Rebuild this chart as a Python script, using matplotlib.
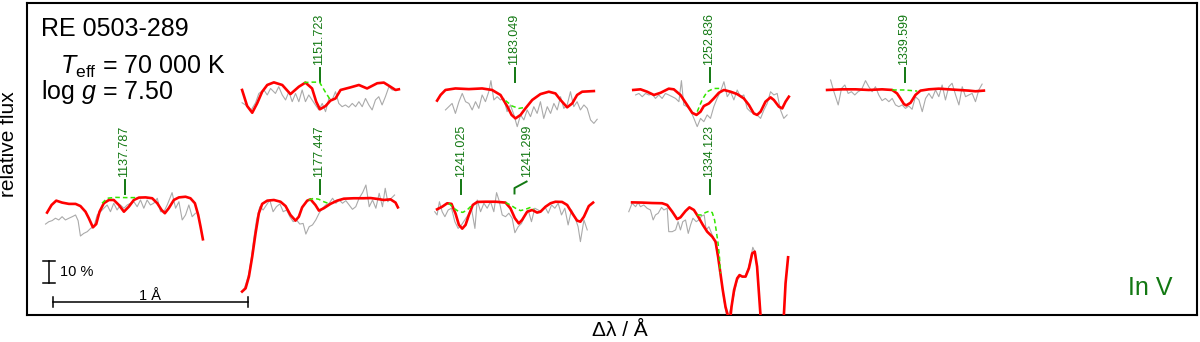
import numpy as np
import matplotlib
matplotlib.use('Agg')
import matplotlib.pyplot as plt

plt.rcParams['font.family'] = ['Liberation Sans', 'DejaVu Sans']
plt.rcParams['mathtext.fontset'] = 'custom'
plt.rcParams['mathtext.rm'] = 'Liberation Sans'
plt.rcParams['mathtext.it'] = 'Liberation Sans:italic'

# panel order: 1137, 1151, 1177, 1183, 1241, 1252, 1334, 1339
panel_center = [1137.787, 1151.723, 1177.447, 1183.049, 1241.299, 1252.836, 1334.123, 1339.599]
panel_lines = [[1137.787], [1151.723], [1177.447], [1183.049], [1241.025, 1241.299],
               [1252.836], [1334.123], [1339.599]]

# offsets from line centre (A) and normalised flux: obs = observation, mod = model,
# noin = model without In V
obs_dx_1137 = [-0.405, -0.388, -0.371, -0.354, -0.337, -0.320, -0.303, -0.285, -0.268, -0.251,
               -0.238, -0.226, -0.209, -0.191, -0.174, -0.157, -0.140, -0.123, -0.106, -0.089,
               -0.072, -0.055, -0.038, -0.021, -0.003, 0.014, 0.031, 0.048, 0.065, 0.082,
               0.099, 0.116, 0.133, 0.150, 0.168, 0.185, 0.202, 0.219, 0.236, 0.244,
               0.262, 0.279, 0.296, 0.313, 0.330, 0.347, 0.364]
obs_f_1137 = [0.889, 0.900, 0.905, 0.916, 0.908, 0.923, 0.908, 0.916, 0.923, 0.931,
              0.905, 0.834, 0.846, 0.854, 0.869, 0.877, 0.931, 0.946, 0.962, 0.977,
              0.946, 0.985, 0.954, 0.977, 0.962, 0.977, 0.985, 0.992, 0.969, 1.000,
              0.962, 1.000, 0.977, 0.985, 1.008, 0.946, 0.946, 0.977, 1.015, 1.034,
              0.962, 0.992, 0.908, 0.931, 0.977, 0.923, 0.939]
mod_dx_1137 = [-0.397, -0.374, -0.350, -0.320, -0.285, -0.251, -0.226, -0.200, -0.183, -0.162,
               -0.145, -0.128, -0.106, -0.080, -0.055, -0.029, -0.003, 0.022, 0.048, 0.074,
               0.108, 0.142, 0.168, 0.190, 0.207, 0.227, 0.253, 0.279, 0.313, 0.338,
               0.361, 0.378, 0.390, 0.402]
mod_f_1137 = [0.942, 0.977, 0.997, 0.988, 0.982, 0.982, 0.972, 0.946, 0.916, 0.874,
              0.889, 0.946, 0.985, 1.000, 1.000, 0.977, 0.946, 0.969, 1.000, 1.011,
              1.012, 1.008, 0.985, 0.954, 0.939, 0.962, 1.000, 1.012, 1.015, 1.008,
              0.985, 0.931, 0.877, 0.819]
noin_dx_1137 = [-0.115, -0.089, -0.046, 0.005, 0.056]
noin_f_1137 = [0.985, 1.008, 1.012, 1.011, 1.011]

obs_dx_1151 = [-0.397, -0.371, -0.350, -0.328, -0.311, -0.285, -0.268, -0.251, -0.226, -0.209,
               -0.191, -0.174, -0.157, -0.140, -0.123, -0.106, -0.089, -0.072, -0.055, -0.038,
               -0.021, -0.003, 0.014, 0.031, 0.048, 0.065, 0.082, 0.099, 0.116, 0.133,
               0.150, 0.168, 0.185, 0.202, 0.219, 0.236, 0.253, 0.270, 0.287, 0.304,
               0.321, 0.338, 0.356, 0.373, 0.390]
obs_f_1151 = [0.932, 0.917, 0.899, 0.932, 0.975, 0.991, 0.968, 0.998, 0.975, 1.006,
              0.968, 0.945, 0.983, 0.937, 0.975, 0.937, 0.991, 0.937, 0.968, 0.945,
              0.922, 0.899, 0.929, 0.891, 0.952, 0.945, 0.983, 0.929, 0.914, 0.922,
              0.911, 0.929, 0.914, 0.937, 0.914, 0.952, 0.922, 0.899, 0.945, 0.960,
              0.922, 0.960, 1.006, 0.991, 0.991]
mod_dx_1151 = [-0.397, -0.371, -0.345, -0.320, -0.294, -0.268, -0.234, -0.191, -0.149, -0.106,
               -0.072, -0.038, -0.017, 0.002, 0.031, 0.056, 0.082, 0.108, 0.159, 0.202,
               0.244, 0.296, 0.330, 0.364, 0.390, 0.407]
mod_f_1151 = [0.991, 0.917, 0.886, 0.929, 0.983, 1.014, 1.026, 1.014, 0.972, 1.006,
              1.025, 0.998, 0.937, 0.902, 0.917, 0.942, 0.952, 0.991, 1.003, 1.014,
              0.998, 1.022, 1.025, 1.006, 0.991, 0.994]
noin_dx_1151 = [-0.080, -0.040, 0.000, 0.031, 0.056]
noin_f_1151 = [1.025, 1.027, 1.027, 0.980, 0.945]

obs_dx_1177 = [-0.388, -0.374, -0.362, -0.350, -0.337, -0.323, -0.306, -0.289, -0.272, -0.255,
               -0.238, -0.221, -0.203, -0.186, -0.169, -0.152, -0.135, -0.118, -0.101, -0.084,
               -0.070, -0.053, -0.036, -0.019, -0.002, 0.015, 0.032, 0.050, 0.067, 0.084,
               0.101, 0.118, 0.135, 0.152, 0.169, 0.186, 0.203, 0.221, 0.238, 0.255,
               0.272, 0.289, 0.306, 0.323, 0.337, 0.350, 0.368, 0.385]
obs_f_1177 = [0.585, 0.624, 0.662, 0.731, 0.823, 0.908, 0.969, 0.954, 0.977, 1.000,
              0.946, 0.969, 0.982, 0.946, 0.954, 0.923, 0.900, 0.908, 0.889, 0.892,
              0.843, 0.877, 0.885, 0.908, 0.939, 0.962, 0.977, 0.985, 1.008, 0.985,
              1.000, 0.985, 0.997, 0.977, 0.957, 0.969, 1.008, 1.034, 1.069, 0.969,
              1.000, 0.962, 1.031, 0.969, 1.054, 0.992, 1.008, 1.023]
mod_dx_1177 = [-0.397, -0.379, -0.362, -0.345, -0.328, -0.311, -0.294, -0.268, -0.234, -0.200,
               -0.174, -0.149, -0.123, -0.106, -0.089, -0.063, -0.046, -0.021, -0.003, 0.022,
               0.056, 0.091, 0.125, 0.176, 0.227, 0.262, 0.296, 0.330, 0.364, 0.390, 0.402]
mod_f_1177 = [0.578, 0.593, 0.647, 0.739, 0.846, 0.939, 0.982, 0.997, 1.000, 0.992,
              0.972, 0.931, 0.905, 0.923, 0.966, 0.997, 1.003, 0.977, 0.951, 0.962,
              0.982, 0.997, 1.006, 1.008, 1.008, 1.009, 1.005, 1.000, 1.003, 0.988, 0.966]
noin_dx_1177 = [-0.055, -0.029, -0.003, 0.022, 0.053]
noin_f_1177 = [1.000, 1.008, 1.003, 0.992, 0.982]

obs_dx_1183 = [-0.354, -0.337, -0.320, -0.303, -0.285, -0.268, -0.251, -0.234, -0.217, -0.200,
               -0.183, -0.166, -0.149, -0.132, -0.121, -0.106, -0.089, -0.072, -0.055, -0.038,
               -0.021, -0.003, 0.014, 0.031, 0.048, 0.065, 0.082, 0.099, 0.116, 0.133,
               0.150, 0.168, 0.185, 0.202, 0.219, 0.236, 0.253, 0.270, 0.287, 0.304,
               0.321, 0.338, 0.356, 0.373, 0.390, 0.407, 0.424]
obs_f_1183 = [0.899, 0.914, 0.929, 0.883, 0.937, 0.975, 0.937, 0.929, 0.899, 0.937,
              0.906, 0.968, 0.937, 0.983, 1.034, 0.945, 0.960, 0.945, 0.952, 0.891,
              0.922, 0.876, 0.822, 0.876, 0.853, 0.899, 0.868, 0.914, 0.883, 0.937,
              0.860, 0.914, 0.883, 0.929, 0.899, 0.960, 0.906, 0.922, 0.983, 0.914,
              0.937, 0.899, 0.922, 0.906, 0.853, 0.837, 0.856]
mod_dx_1183 = [-0.397, -0.379, -0.354, -0.303, -0.234, -0.166, -0.115, -0.072, -0.038, -0.015,
               0.005, 0.031, 0.056, 0.091, 0.133, 0.176, 0.210, 0.236, 0.270, 0.296,
               0.321, 0.347, 0.407]
mod_f_1183 = [0.942, 0.968, 0.991, 0.998, 0.995, 0.998, 0.991, 0.968, 0.917, 0.876,
              0.860, 0.876, 0.906, 0.945, 0.972, 0.983, 0.975, 0.945, 0.911, 0.929,
              0.968, 0.983, 0.986]
noin_dx_1183 = [-0.046, -0.012, 0.022, 0.056]
noin_f_1183 = [0.942, 0.917, 0.906, 0.911]

obs_dx_1241 = [-0.409, -0.397, -0.385, -0.371, -0.357, -0.340, -0.323, -0.306, -0.289, -0.272,
               -0.255, -0.238, -0.221, -0.203, -0.191, -0.174, -0.157, -0.140, -0.123, -0.106,
               -0.092, -0.080, -0.063, -0.046, -0.029, -0.012, 0.002, 0.019, 0.036, 0.053,
               0.070, 0.087, 0.104, 0.121, 0.138, 0.156, 0.173, 0.190, 0.207, 0.224,
               0.241, 0.258, 0.275, 0.292, 0.309, 0.326, 0.338, 0.356, 0.373]
obs_f_1241 = [0.946, 0.931, 0.992, 0.946, 0.923, 0.954, 0.962, 0.900, 0.869, 0.885,
              0.908, 0.931, 0.962, 0.869, 1.000, 0.946, 0.985, 0.962, 0.992, 0.946,
              1.034, 1.000, 0.931, 0.923, 0.939, 0.916, 0.849, 0.877, 0.892, 0.931,
              0.954, 0.900, 0.962, 0.954, 0.946, 0.969, 0.939, 0.977, 0.962, 0.985,
              0.931, 0.962, 0.885, 0.954, 0.923, 0.877, 0.808, 0.908, 0.862]
mod_dx_1241 = [-0.397, -0.371, -0.345, -0.323, -0.303, -0.285, -0.268, -0.251, -0.234, -0.214,
               -0.191, -0.149, -0.097, -0.046, -0.021, 0.002, 0.022, 0.039, 0.065, 0.091,
               0.116, 0.133, 0.159, 0.185, 0.210, 0.244, 0.270, 0.296, 0.321, 0.338,
               0.356, 0.381, 0.403]
mod_f_1241 = [0.957, 0.969, 0.985, 0.982, 0.939, 0.885, 0.868, 0.885, 0.931, 0.977,
              0.991, 0.992, 0.992, 0.988, 0.962, 0.916, 0.892, 0.908, 0.946, 0.954,
              0.942, 0.946, 0.969, 0.985, 0.992, 0.991, 0.977, 0.939, 0.905, 0.900,
              0.923, 0.972, 0.988]
noin_dx_1241 = [-0.337, -0.311, -0.285, -0.265, -0.243, -0.217, np.nan,
                -0.046, -0.021, 0.005, 0.031, 0.056, 0.082, 0.099]
noin_f_1241 = [0.985, 0.962, 0.946, 0.943, 0.954, 0.977, np.nan,
               0.988, 0.977, 0.962, 0.951, 0.957, 0.966, 0.957]

obs_dx_1252 = [-0.379, -0.362, -0.345, -0.328, -0.311, -0.294, -0.277, -0.260, -0.243, -0.226,
               -0.209, -0.191, -0.174, -0.157, -0.144, -0.132, -0.115, -0.098, -0.080, -0.063,
               -0.046, -0.029, -0.012, 0.005, 0.022, 0.039, 0.056, 0.074, 0.091, 0.108,
               0.125, 0.142, 0.159, 0.176, 0.193, 0.210, 0.227, 0.244, 0.262, 0.279,
               0.296, 0.313, 0.330, 0.347, 0.364, 0.381, 0.398]
obs_f_1252 = [0.968, 0.975, 0.960, 0.975, 0.968, 0.972, 0.952, 0.968, 0.952, 0.975,
              0.968, 0.960, 0.952, 0.937, 1.034, 0.922, 0.914, 0.899, 0.860, 0.822,
              0.860, 0.845, 0.876, 0.860, 0.914, 0.952, 0.983, 1.029, 0.960, 0.983,
              0.945, 0.991, 0.960, 0.968, 0.906, 0.891, 0.883, 0.876, 0.860, 0.899,
              0.929, 0.983, 0.968, 0.975, 0.899, 0.860, 0.876]
mod_dx_1252 = [-0.391, -0.354, -0.320, -0.285, -0.251, -0.209, -0.183, -0.149, -0.115, -0.089,
               -0.067, -0.046, -0.029, -0.003, 0.022, 0.048, 0.074, 0.108, 0.142, 0.176,
               0.202, 0.227, 0.244, 0.262, 0.287, 0.313, 0.330, 0.356, 0.373, 0.390, 0.407]
mod_f_1252 = [0.991, 0.994, 0.983, 0.968, 0.978, 0.997, 0.994, 0.968, 0.922, 0.886,
              0.876, 0.891, 0.917, 0.929, 0.952, 0.978, 0.991, 0.983, 0.972, 0.952,
              0.922, 0.883, 0.876, 0.891, 0.937, 0.957, 0.945, 0.914, 0.906, 0.937, 0.960]
noin_dx_1252 = [-0.063, -0.038, -0.012, 0.022, 0.056]
noin_f_1252 = [0.891, 0.945, 0.983, 0.998, 0.998]

obs_dx_1334 = [-0.414, -0.397, -0.379, -0.366, -0.354, -0.337, -0.320, -0.303, -0.289, -0.277,
               -0.263, -0.246, -0.234, -0.217, -0.209, -0.191, -0.174, -0.161, -0.149, -0.137,
               -0.123, -0.109, -0.097, -0.085, -0.068, -0.055, -0.041, -0.027, -0.017, -0.003,
               0.014, 0.031, 0.051, 0.074, 0.091, 0.116, 0.142, 0.159, 0.181, 0.202,
               0.222, 0.236, 0.253, 0.263]
obs_f_1334 = [0.946, 0.985, 0.969, 0.988, 0.969, 0.977, 0.962, 0.954, 0.908, 0.931,
              0.939, 0.966, 0.954, 0.962, 0.854, 0.854, 0.862, 0.900, 0.862, 0.900,
              0.908, 0.846, 0.885, 0.916, 0.900, 0.908, 0.926, 0.931, 0.862, 0.877,
              0.839, 0.800, 0.693, 0.539, 0.447, 0.524, 0.631, 0.650, 0.644, 0.693,
              0.782, 0.754, 0.585, 0.447]
mod_dx_1334 = [-0.397, -0.345, -0.294, -0.243, -0.217, -0.191, -0.166, -0.149, -0.123, -0.103,
               -0.080, -0.058, -0.034, -0.012, 0.014, 0.031, 0.044, 0.056, 0.068, 0.082,
               0.096, 0.104, 0.113, 0.126, 0.142, 0.154, 0.168, 0.185, 0.202, 0.219,
               0.232, 0.244, 0.256, 0.262, 0.321, 0.381, 0.390, 0.403]
mod_f_1334 = [0.989, 0.988, 0.986, 0.985, 0.977, 0.946, 0.912, 0.920, 0.949, 0.966,
              0.954, 0.923, 0.885, 0.854, 0.831, 0.808, 0.739, 0.662, 0.585, 0.508,
              0.462, 0.432, 0.508, 0.585, 0.639, 0.654, 0.647, 0.647, 0.685, 0.754,
              0.762, 0.693, 0.539, 0.462, 0.370, 0.462, 0.616, 0.736]
noin_dx_1334 = [-0.063, -0.041, -0.021, 0.000, 0.014, 0.026, 0.034, 0.044, 0.051, 0.056]
noin_f_1334 = [0.931, 0.931, 0.942, 0.949, 0.942, 0.908, 0.862, 0.800, 0.739, 0.662]

obs_dx_1339 = [-0.379, -0.362, -0.340, -0.323, -0.306, -0.289, -0.272, -0.255, -0.238, -0.221,
               -0.200, -0.183, -0.166, -0.149, -0.132, -0.115, -0.098, -0.080, -0.063, -0.046,
               -0.029, -0.012, 0.005, 0.022, 0.039, 0.056, 0.074, 0.091, 0.108, 0.125,
               0.142, 0.159, 0.176, 0.193, 0.210, 0.227, 0.244, 0.262, 0.279, 0.296,
               0.313, 0.330, 0.347, 0.364, 0.381, 0.398]
obs_f_1339 = [1.037, 0.983, 0.922, 0.998, 1.014, 0.975, 0.983, 0.968, 0.983, 0.991,
              1.034, 1.006, 0.983, 1.006, 0.968, 0.942, 0.952, 0.937, 0.952, 0.922,
              0.914, 0.922, 0.906, 0.917, 0.902, 0.960, 0.945, 0.891, 0.952, 0.975,
              0.952, 0.991, 0.960, 1.014, 0.945, 1.006, 1.022, 0.968, 0.922, 1.006,
              0.960, 0.968, 0.975, 0.937, 0.991, 1.018]
mod_dx_1339 = [-0.397, -0.320, -0.251, -0.183, -0.115, -0.063, -0.038, -0.021, -0.003, 0.009,
               0.031, 0.056, 0.082, 0.125, 0.176, 0.227, 0.279, 0.330, 0.364, 0.407]
mod_f_1339 = [0.991, 0.994, 0.994, 0.991, 0.994, 0.991, 0.975, 0.952, 0.926, 0.920,
              0.932, 0.968, 0.988, 0.994, 0.997, 0.994, 0.991, 0.988, 0.985, 0.988]
noin_dx_1339 = [-0.063, 0.000, 0.065]
noin_f_1339 = [0.991, 0.991, 0.986]

panels = [
    (obs_dx_1137, obs_f_1137, mod_dx_1137, mod_f_1137, noin_dx_1137, noin_f_1137),
    (obs_dx_1151, obs_f_1151, mod_dx_1151, mod_f_1151, noin_dx_1151, noin_f_1151),
    (obs_dx_1177, obs_f_1177, mod_dx_1177, mod_f_1177, noin_dx_1177, noin_f_1177),
    (obs_dx_1183, obs_f_1183, mod_dx_1183, mod_f_1183, noin_dx_1183, noin_f_1183),
    (obs_dx_1241, obs_f_1241, mod_dx_1241, mod_f_1241, noin_dx_1241, noin_f_1241),
    (obs_dx_1252, obs_f_1252, mod_dx_1252, mod_f_1252, noin_dx_1252, noin_f_1252),
    (obs_dx_1334, obs_f_1334, mod_dx_1334, mod_f_1334, noin_dx_1334, noin_f_1334),
    (obs_dx_1339, obs_f_1339, mod_dx_1339, mod_f_1339, noin_dx_1339, noin_f_1339),
]

# layout: x position of each panel centre (A), vertical offset of each row
panel_x = [0.5, 1.5, 1.5, 2.5, 2.5, 3.5, 3.5, 4.5]
panel_y = [-0.47, 0.046, -0.47, 0.046, -0.47, 0.046, -0.47, 0.046]
label_shift = {1241.299: 0.062}

dark_green = '#127812'

fig = plt.figure(figsize=(12, 3.42), dpi=100)
ax = fig.add_axes([27 / 1200, 27 / 342, 1170 / 1200, 312 / 342])
ax.set_xlim(0, 6)
ax.set_ylim(0, 312 / 217)
ax.set_xticks([])
ax.set_yticks([])
for s in ax.spines.values():
    s.set_linewidth(1.5)

for i, (odx, of, mdx, mf, ndx, nf) in enumerate(panels):
    x0, y0 = panel_x[i], panel_y[i]
    ax.plot(x0 + np.array(odx), y0 + np.array(of), color='#aaaaaa', lw=0.8, zorder=2)
    ax.plot(x0 + np.array(mdx), y0 + np.array(mf), color='#ff0000', lw=1.9, zorder=3)
    ax.plot(x0 + np.array(ndx), y0 + np.array(nf), color='#33e600', lw=1.1,
            dashes=(3, 2), zorder=4)
    for w in panel_lines[i]:
        xl = x0 + w - panel_center[i]
        sh = label_shift.get(w, 0.0)
        if sh:
            ax.plot([xl, xl, xl + sh], [y0 + 1.03, y0 + 1.055, y0 + 1.085],
                    color=dark_green, lw=1.4)
        else:
            ax.plot([xl, xl], [y0 + 1.028, y0 + 1.092], color=dark_green, lw=1.4)
        ax.text(xl + sh, y0 + 1.106, '%.3f' % w, rotation=90, ha='center', va='bottom',
                fontsize=9, color=dark_green)

# star and model parameters
ax.text(0.072, 1.287, 'RE 0503-289', fontsize=18, va='baseline')
ax.text(0.169, 1.111, r'$T_\mathrm{eff}$ = 70 000 K', fontsize=18, va='baseline')
ax.text(0.072, 0.995, r'log $g$ = 7.50', fontsize=18, va='baseline')
ax.text(5.646, 0.092, 'In V', fontsize=18, va='baseline', color=dark_green)

# scale bars
ax.plot([0.113, 0.113], [0.147, 0.247], color='black', lw=1.1)
ax.plot([0.082, 0.144], [0.147, 0.147], color='black', lw=1.1)
ax.plot([0.082, 0.144], [0.247, 0.247], color='black', lw=1.1)
ax.text(0.169, 0.197, '10 %', fontsize=10.5, va='center')
ax.plot([0.132, 1.132], [0.060, 0.060], color='black', lw=1.1)
ax.plot([0.132, 0.132], [0.037, 0.083], color='black', lw=1.1)
ax.plot([1.132, 1.132], [0.037, 0.083], color='black', lw=1.1)
ax.text(0.632, 0.069, '1 Å', fontsize=10.5, ha='center', va='baseline')

ax.set_xlabel('Δλ / Å', fontsize=15)
ax.xaxis.set_label_coords((620 - 27) / 1170, -0.02)
ax.set_ylabel('relative flux', fontsize=15)
ax.yaxis.set_label_coords(-0.0077, (315 - 144) / 312)

plt.savefig('out.png', dpi=100)
